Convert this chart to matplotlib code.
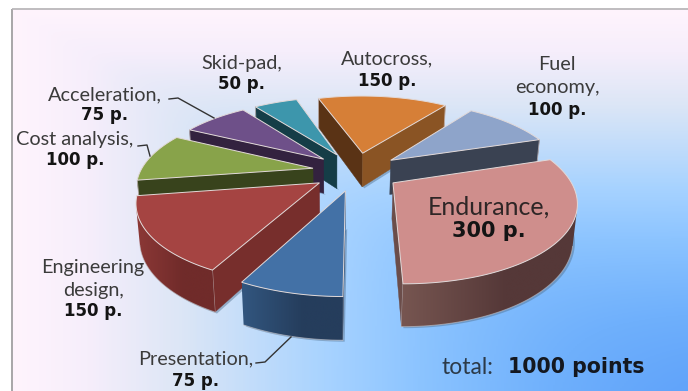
import numpy as np
import matplotlib
matplotlib.use("Agg")
import matplotlib.pyplot as plt
from matplotlib.colors import LinearSegmentedColormap
from matplotlib.patches import Polygon

# Scoring events of the competition, clockwise from the largest slice
events = ["Endurance", "Presentation", "Engineering\ndesign", "Cost analysis",
          "Acceleration", "Skid-pad", "Autocross", "Fuel\neconomy"]
points = [300, 75, 150, 100, 75, 50, 150, 100]
total_points = 1000

top_colors = ["#CF8E8C", "#4371A6", "#A54442", "#88A34A", "#6E5089", "#3D96AC", "#D67F37", "#8EA4CA"]
rim_left = ["#775651", "#32567F", "#8C3836", "#3E4A20", "#35243F", "#173F4A", "#5A3315", "#3A4252"]
rim_right = ["#553838", "#253D5C", "#702B2A", "#38431C", "#33223F", "#153D47", "#5A3315", "#3A4252"]
side_start = ["#5F4240", "#263F5F", "#772E2C", "#38431C", "#33223F", "#153D47", "#5A3315", "#3A4252"]
side_end = ["#6B4D4A", "#2F5078", "#772E2C", "#38431C", "#33223F", "#153D47", "#8A5424", "#3A4252"]
draw_order = [5, 6, 4, 7, 3, 2, 1, 0]

# Camera: maps pie-plane coordinates (radius 1, z = thickness 0..1) to pixels
PROJ_X = (185.884, -14.636, 356.150, 5.807)
PROJ_Y = (-12.792, 38.701, 171.244, 38.616)
PROJ_W = (0.06076, -0.19180, 1.0, 0.01740)
EXPLODE = 0.255


def project(x, y, z=0.0):
    w = PROJ_W[0] * x + PROJ_W[1] * y + PROJ_W[2] + PROJ_W[3] * z
    sx = (PROJ_X[0] * x + PROJ_X[1] * y + PROJ_X[2] + PROJ_X[3] * z) / w
    sy = (PROJ_Y[0] * x + PROJ_Y[1] * y + PROJ_Y[2] + PROJ_Y[3] * z) / w
    return np.column_stack([np.atleast_1d(sx), np.atleast_1d(sy)])


def signed_area(poly):
    x, y = poly[:, 0], poly[:, 1]
    return 0.5 * np.sum(x * np.roll(y, -1) - np.roll(x, -1) * y)


fig = plt.figure(figsize=(6.88, 3.91), dpi=100, facecolor="white")
ax = fig.add_axes([0, 0, 1, 1])
ax.axis("off")

# Panel background: pale along the top and left, deepening to the lower right
FRAME_L, FRAME_T = 12, 9
gx, gy = np.meshgrid(np.linspace(0.001, 1, 340), np.linspace(0.001, 1, 380))
field = (gx ** -8 + gy ** -8) ** (-1 / 8) * 1.08
panel_cmap = LinearSegmentedColormap.from_list(
    "panel", [(0, "#FFF4FD"), (0.12, "#F6EEFB"), (0.27, "#DCE6F6"), (0.5, "#A8D3FF"),
              (0.65, "#8CC4FF"), (0.85, "#6FB0FC"), (1, "#60A3FA")])
ax.imshow(field, cmap=panel_cmap, vmin=0, vmax=1, extent=(FRAME_L, 688, 391, FRAME_T),
          aspect="auto", zorder=0, interpolation="bilinear")
ax.plot([FRAME_L, FRAME_L], [391, FRAME_T], color="#A8A6A8", lw=1.4, zorder=1, solid_capstyle="butt")
ax.plot([FRAME_L, 688], [FRAME_T, FRAME_T], color="#B4B2B4", lw=1.2, zorder=1, solid_capstyle="butt")

edges = np.cumsum([0] + points) / total_points * 2 * np.pi
z = 2
for i in draw_order:
    a0, a1 = edges[i], edges[i + 1]
    mid = (a0 + a1) / 2
    ox, oy = EXPLODE * np.cos(mid), EXPLODE * np.sin(mid)
    theta = np.linspace(a0, a1, max(int(points[i] / 2), 16))
    rx, ry = ox + np.cos(theta), oy + np.sin(theta)

    top_rim = project(rx, ry)
    bot_rim = project(rx, ry, 1.0)
    apex_top = project(ox, oy)
    apex_bot = project(ox, oy, 1.0)
    top_poly = np.vstack([apex_top, top_rim])

    # Soft shadow cast on the panel below the wall
    outline = np.vstack([apex_bot, bot_rim])
    ax.add_patch(Polygon(outline + [2.0, 1.5], closed=True, fc="#4F6E8C", ec="none", alpha=0.45, zorder=z))
    z += 0.01

    # Radial walls, skipping any that face away from the viewer
    for rim_t, rim_b, tone, rev in ((top_rim[0], bot_rim[0], side_start[i], False),
                                    (top_rim[-1], bot_rim[-1], side_end[i], True)):
        p, q = (rim_t, apex_top[0]) if rev else (apex_top[0], rim_t)
        p2, q2 = (rim_b, apex_bot[0]) if rev else (apex_bot[0], rim_b)
        quad = np.array([p, q, q2, p2])
        if signed_area(quad) < 0:
            ax.add_patch(Polygon(quad, closed=True, fc=tone, ec=tone, lw=0.3, zorder=z))
            ax.plot([rim_t[0], rim_b[0]], [rim_t[1], rim_b[1]], color="#C9BDBD", lw=0.7, alpha=0.7, zorder=z + 0.001)
            z += 0.01

    # Curved outer wall: one clipped horizontal gradient over its visible stretch
    front = np.array([signed_area(np.array([top_rim[k], top_rim[k + 1], bot_rim[k + 1], bot_rim[k]])) < 0
                      for k in range(len(theta) - 1)])
    if front.any():
        idx = np.flatnonzero(front)
        lo, hi = idx[0], idx[-1] + 2
        wall = np.vstack([top_rim[lo:hi], bot_rim[lo:hi][::-1]])
        x0, y0 = wall.min(axis=0)
        x1, y1 = wall.max(axis=0)
        shade = LinearSegmentedColormap.from_list("wall", [(0, rim_left[i]), (0.6, rim_right[i]), (1, rim_right[i])])
        im = ax.imshow(np.linspace(0, 1, 128)[None, :], cmap=shade, vmin=0, vmax=1, aspect="auto",
                       extent=(x0, x1, y1, y0), zorder=z, interpolation="bilinear")
        clip = Polygon(wall, closed=True, transform=ax.transData)
        im.set_clip_path(clip)
        z += 0.01
        ax.plot(bot_rim[lo:hi, 0], bot_rim[lo:hi, 1], color="#C4C0C4", lw=0.7, alpha=0.6, zorder=z)
        z += 0.01

    # Top face with a pale rim highlight
    ax.add_patch(Polygon(top_poly, closed=True, fc=top_colors[i], ec="#E2D9D8", lw=0.7, zorder=z))
    z += 0.01

ax.set_xlim(0, 688)
ax.set_ylim(391, 0)

NAME_FONT = ["Lato", "DejaVu Sans"]
INK = "#3B3B3B"
VALUE_INK = "#141414"


def add_label(idx, cx, y_name, y_value, name_size=14.3, value_size=12.0, ink=INK):
    ax.text(cx, y_name, events[idx] + ",", ha="center", va="center", family=NAME_FONT,
            fontsize=name_size, color=ink, linespacing=1.4, zorder=20)
    ax.text(cx, y_value, f"{points[idx]} p.", ha="center", va="center", family="DejaVu Sans",
            fontweight="bold", fontsize=value_size, color=VALUE_INK, zorder=20)


add_label(0, 489, 207, 231, name_size=18.0, value_size=15.0, ink="#2E2626")
add_label(1, 196, 359, 381)
add_label(2, 93, 279, 311)
add_label(3, 75, 140, 160)
add_label(4, 105, 95, 115)
add_label(5, 242, 64, 84)
add_label(6, 387, 59, 81)
add_label(7, 557, 76, 110)

# Leader lines for the outside labels
leaders = [((169, 99), (178, 98), (214, 118)),
           ((138, 146), (147, 145), (150, 156)),
           ((256, 363), (265, 362), (291, 337))]
for path in leaders:
    xs, ys = zip(*path)
    ax.plot(xs, ys, color="#333333", lw=1.0, zorder=19)

ax.text(442, 367, "total:", ha="left", va="center", family=NAME_FONT, fontsize=16.5, color="#2C3A48", zorder=20)
ax.text(644, 367, f"{total_points} points", ha="right", va="center", family="DejaVu Sans",
        fontweight="bold", fontsize=14.8, color="#141820", zorder=20)

fig.savefig("out.png", dpi=100, facecolor="white")
